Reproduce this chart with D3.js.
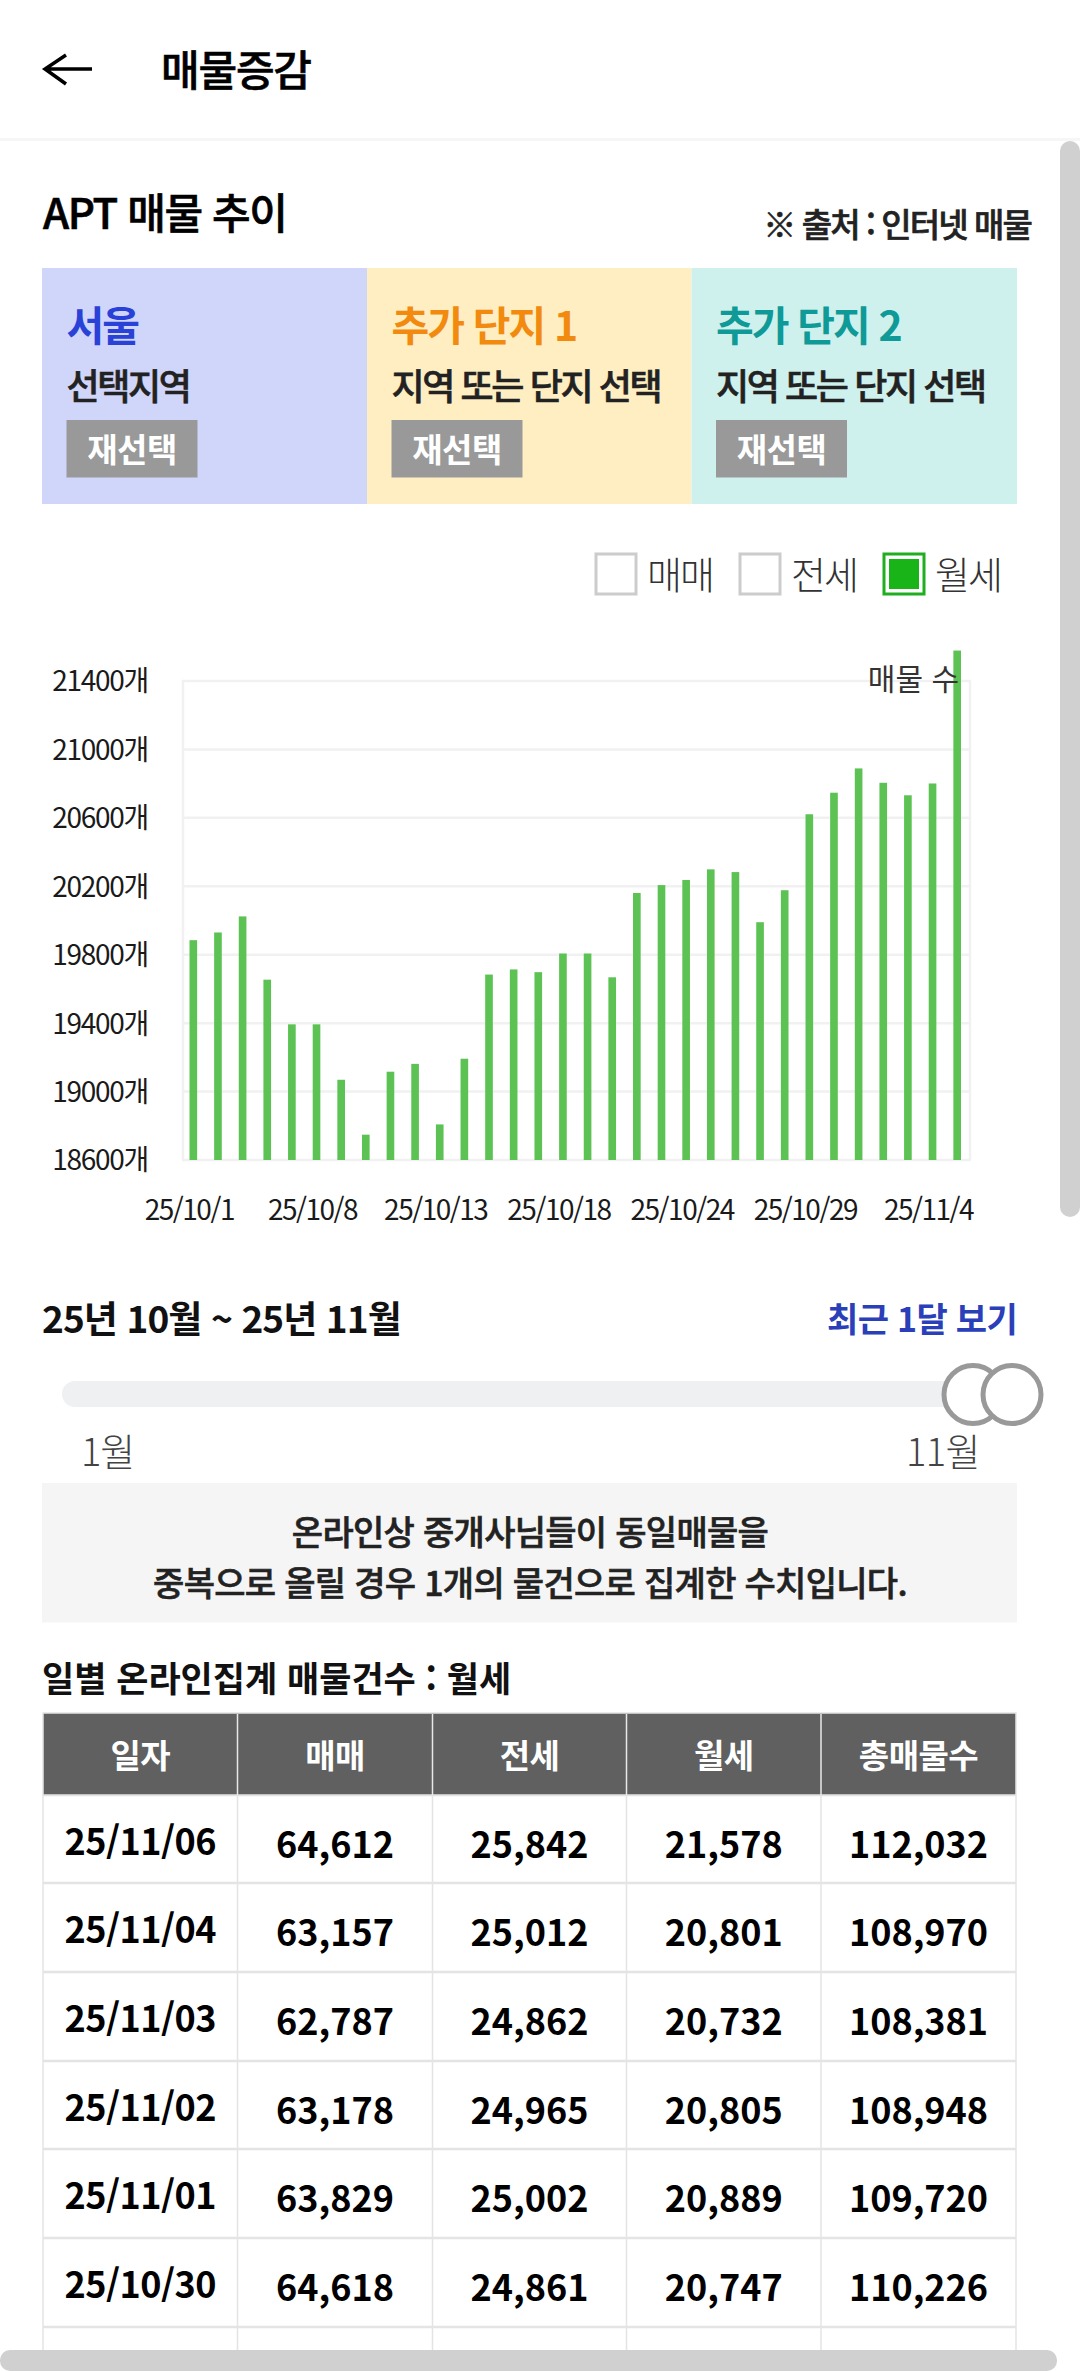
<!DOCTYPE html>
<html lang="ko">
<head>
<meta charset="utf-8">
<title>매물증감</title>
<script src="https://cdnjs.cloudflare.com/ajax/libs/d3/7.8.5/d3.min.js"></script>
<style>
html, body { margin: 0; padding: 0; background: #fff; overflow: hidden; }
svg { display: block; font-family: "Noto Sans CJK KR", "Noto Sans", sans-serif; }
.domain { display: none; }
</style>
</head>
<body>
<div id="chart"></div>
<script>
// chart values (last bars come from the table)
var dates = ['25/10/1', '25/10/2', '25/10/3', '25/10/4', '25/10/7', '25/10/8', '25/10/9', '25/10/10',
    '25/10/11', '25/10/12', '25/10/13', '25/10/14', '25/10/15', '25/10/16', '25/10/17', '25/10/18',
    '25/10/20', '25/10/21', '25/10/22', '25/10/23', '25/10/24', '25/10/25', '25/10/26', '25/10/27',
    '25/10/28', '25/10/29', '25/10/30', '25/11/1', '25/11/2', '25/11/3', '25/11/4', '25/11/6'];
var counts = [19885, 19930, 20024, 19654, 19393, 19393, 19069, 18748,
    19116, 19162, 18808, 19192, 19684, 19714, 19698, 19807,
    19807, 19668, 20161, 20207, 20237, 20299, 20283, 19990,
    20177, 20621, 20747, 20889, 20805, 20732, 20801, 21578];
var yTicks = [18600, 19000, 19400, 19800, 20200, 20600, 21000, 21400];
var xTickLabels = ['25/10/1', '25/10/8', '25/10/13', '25/10/18', '25/10/24', '25/10/29', '25/11/4'];

var panelTitles = ['서울', '추가 단지 1', '추가 단지 2'];
var panelSubs = ['선택지역', '지역 또는 단지 선택', '지역 또는 단지 선택'];
var legendNames = ['매매', '전세', '월세'];

var tableHead = ['일자', '매매', '전세', '월세', '총매물수'];
var tableDates = ['25/11/06', '25/11/04', '25/11/03', '25/11/02', '25/11/01', '25/10/30'];
var tableSale = ['64,612', '63,157', '62,787', '63,178', '63,829', '64,618'];
var tableJeonse = ['25,842', '25,012', '24,862', '24,965', '25,002', '24,861'];
var tableRent = ['21,578', '20,801', '20,732', '20,805', '20,889', '20,747'];
var tableTotal = ['112,032', '108,970', '108,381', '108,948', '109,720', '110,226'];

var width = 1080, height = 2371;
var svg = d3.select('#chart').append('svg')
    .attr('width', width)
    .attr('height', height);

// spacing: letter-spacing in px. Weight 500 has no face of its own here, so it gets a thin outline.
function label(x, y, txt, size, weight, color, anchor, spacing) {
    var t = svg.append('text')
        .attr('x', x)
        .attr('y', y)
        .attr('dominant-baseline', 'central')
        .attr('text-anchor', anchor || 'start')
        .attr('font-size', size)
        .attr('font-weight', weight)
        .attr('fill', color)
        .attr('letter-spacing', spacing || 0)
        .text(txt);
    if (weight == 500) t.attr('stroke', color).attr('stroke-width', 0.6);
    return t;
}

function box(x, y, w, h, fill) {
    return svg.append('rect')
        .attr('x', x).attr('y', y)
        .attr('width', w).attr('height', h)
        .attr('fill', fill);
}

/* header */
svg.append('path')
    .attr('d', 'M92,69H45M66,55L45,69L66,84')
    .attr('fill', 'none')
    .attr('stroke', '#000')
    .attr('stroke-width', 3.5);
label(161, 67, '매물증감', 42, 500, '#000', 'start', -1.2);
box(0, 138, width, 3, '#f6f6f6');

label(43, 210, 'APT 매물 추이', 42, 500, '#000', 'start', -1.4);
label(1031, 223, '※ 출처 : 인터넷 매물', 33, 500, '#222', 'end', -1.9);

/* region panels */
var panelX = [42, 367, 691.5];
var panelW = [325, 324.5, 325.5];
var panelFill = ['#d0d5fa', '#feeec2', '#cff1ee'];
var panelColor = ['#2a41d8', '#f28a10', '#0f9a98'];
panelTitles.forEach(function(t, i) {
    box(panelX[i], 268, panelW[i], 236, panelFill[i]);
    label(panelX[i] + 24.5, 323, t, 41, 700, panelColor[i], 'start', -1.9);
    label(panelX[i] + 24.5, 384, panelSubs[i], 36, 500, '#222', 'start', -2.4);
    box(panelX[i] + 24.5, 420, 131, 57.5, '#999');
    label(panelX[i] + 90, 448, '재선택', 33, 700, '#fff', 'middle', -0.5);
});

/* legend */
var legendX = [596, 740, 884];
legendNames.forEach(function(t, i) {
    box(legendX[i], 554, 40, 40, '#fff')
        .attr('stroke', i == 2 ? '#1fae1f' : '#ccc')
        .attr('stroke-width', 3);
    if (i == 2) box(legendX[i] + 5, 559, 30, 30, '#18b418');
    label(legendX[i] + 51, 572, t, 38, 300, '#333', 'start', -2);
});

/* bar chart */
var y = d3.scaleLinear().domain([18600, 21400]).range([1160, 681]);
var x = d3.scaleBand().domain(dates).range([181, 969.5]).paddingInner(0.69).paddingOuter(0.345);

var grid = svg.append('g').attr('stroke', '#f1f1f1').attr('stroke-width', 2.5);
grid.selectAll('line.h')
    .data(yTicks)
    .enter().append('line')
    .attr('class', 'h')
    .attr('x1', 182).attr('x2', 971)
    .attr('y1', function(d) { return y(d); })
    .attr('y2', function(d) { return y(d); });
grid.selectAll('line.v')
    .data([183, 970])
    .enter().append('line')
    .attr('class', 'v')
    .attr('x1', function(d) { return d; })
    .attr('x2', function(d) { return d; })
    .attr('y1', y(21400))
    .attr('y2', y(18600));

svg.append('g').selectAll('rect')
    .data(dates)
    .enter().append('rect')
    .attr('x', function(d) { return x(d); })
    .attr('y', function(d, i) { return y(counts[i]); })
    .attr('width', x.bandwidth())
    .attr('height', function(d, i) { return y(18600) - y(counts[i]); })
    .attr('fill', '#5cc253');

var yAxis = svg.append('g')
    .attr('transform', 'translate(183,1)')
    .call(d3.axisLeft(y).tickValues(yTicks).tickSize(0).tickPadding(35)
        .tickFormat(function(d) { return d + '개'; }));
var xAxis = svg.append('g')
    .attr('transform', 'translate(0,1160)')
    .call(d3.axisBottom(x).tickValues(xTickLabels).tickSize(0).tickPadding(40));
[yAxis, xAxis].forEach(function(a) {
    a.attr('font-family', null).attr('font-size', null);
    a.selectAll('text')
        .attr('font-size', 28)
        .attr('letter-spacing', -1.3)
        .attr('fill', '#1a1a1a');
});
xAxis.selectAll('text').attr('dx', -4).attr('letter-spacing', -1.5);

label(959, 677, '매물 수', 30, 400, '#333', 'end');

/* period slider */
label(42, 1317, '25년 10월 ~ 25년 11월', 37, 700, '#111', 'start', -0.9);
label(1017, 1317, '최근 1달 보기', 34, 700, '#2a3fb8', 'end', -0.7);

box(62, 1381, 930, 26, '#eff0f2').attr('rx', 13);
[973, 1012].forEach(function(cx) {
    svg.append('circle')
        .attr('cx', cx).attr('cy', 1394.5).attr('r', 29)
        .attr('fill', '#fff')
        .attr('stroke', '#999')
        .attr('stroke-width', 5);
});
label(81, 1449, '1월', 38, 300, '#444', 'start', -1);
label(980, 1449, '11월', 38, 300, '#444', 'end', -0.5);

/* notice */
box(42, 1483, 975, 139.5, '#f5f5f5');
label(530, 1530, '온라인상 중개사님들이 동일매물을', 34, 500, '#222', 'middle', -0.7);
label(530, 1581, '중복으로 올릴 경우 1개의 물건으로 집계한 수치입니다.', 34, 500, '#222', 'middle', -0.7);

/* table */
label(42, 1676, '일별 온라인집계 매물건수 : 월세', 35, 700, '#111');

var colEdges = [43, 237.5, 432.5, 626.5, 821, 1016];
var rowY = [1795, 1883, 1972, 2061, 2149, 2238, 2327];
var tableCols = [tableDates, tableSale, tableJeonse, tableRent, tableTotal];

var lines = svg.append('g').attr('stroke', '#e4e4e4');
lines.selectAll('line.row')
    .data(rowY)
    .enter().append('line')
    .attr('class', 'row')
    .attr('x1', colEdges[0]).attr('x2', colEdges[5])
    .attr('y1', function(d) { return d; })
    .attr('y2', function(d) { return d; })
    .attr('stroke-width', 2.5);
lines.selectAll('line.col')
    .data(colEdges)
    .enter().append('line')
    .attr('class', 'col')
    .attr('x1', function(d) { return d; })
    .attr('x2', function(d) { return d; })
    .attr('y1', 1795).attr('y2', 2352)
    .attr('stroke-width', 1.5);

box(colEdges[0], 1713, colEdges[5] - colEdges[0], 82, '#606060')
    .attr('stroke', '#e4e4e4')
    .attr('stroke-width', 1.5);
tableHead.forEach(function(t, c) {
    var mid = (colEdges[c] + colEdges[c + 1]) / 2;
    label(mid, 1754, t, 33, 700, '#fff', 'middle', -0.5);
    if (c > 0) {
        svg.append('line')
            .attr('x1', colEdges[c]).attr('x2', colEdges[c])
            .attr('y1', 1714).attr('y2', 1795)
            .attr('stroke', '#e8e8e8').attr('stroke-width', 1.5);
    }
    tableCols[c].forEach(function(v, r) {
        // the date column sits a little higher than the numbers
        label(mid, rowY[r] + (c == 0 ? 43.5 : 46.5), v, 36, 700, '#000', 'middle', c == 0 ? -0.5 : 0);
    });
});

/* scrollbars */
box(1060, 141, 20, 1076, '#d0d0d0').attr('rx', 10);
box(0, 2350, 1057, 21, '#d0d0d0').attr('rx', 10);
</script>
</body>
</html>
